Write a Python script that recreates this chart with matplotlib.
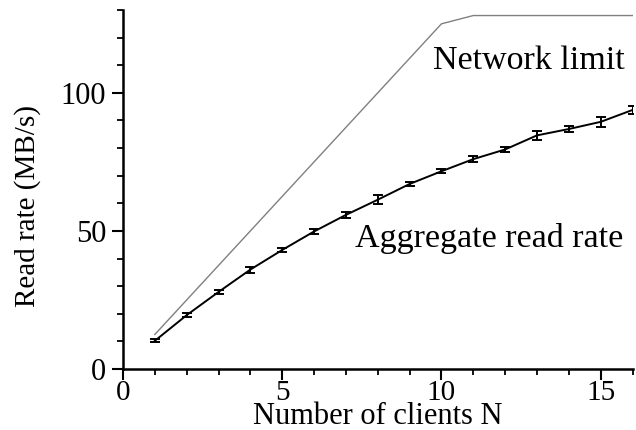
import matplotlib
matplotlib.use("Agg")
import matplotlib.pyplot as plt
from matplotlib.ticker import MultipleLocator

clients = [1, 2, 3, 4, 5, 6, 7, 8, 9, 10, 11, 12, 13, 14, 15, 16]
read_rate = [10.2, 19.5, 27.9, 36.0, 43.1, 49.8, 55.8, 61.3, 67.0, 71.6,
             76.0, 79.5, 84.6, 86.9, 89.5, 93.8]
read_err = [0.5, 0.6, 0.8, 1.1, 0.8, 0.8, 1.0, 1.6, 0.8, 0.8,
            1.0, 0.8, 1.5, 1.0, 1.8, 1.6]
net_clients = [1, 10, 11, 16]
net_limit = [12.5, 125.0, 128.0, 128.0]

plt.rcParams['font.family'] = ['Liberation Serif', 'DejaVu Serif']

fig = plt.figure(figsize=(6.36, 4.30), dpi=100)
ax = fig.add_axes([0.1934, 0.1419, 0.8011, 0.8348])

ax.plot(net_clients, net_limit, color='#808080', lw=1.0)
ax.errorbar(clients, read_rate, yerr=read_err, color='black', lw=1.4,
            elinewidth=1.4, capsize=3.8, capthick=1.4)

ax.text(9.72, 108.7, 'Network limit', fontsize=24.5, va='baseline', ha='left')
ax.text(7.3, 44.2, 'Aggregate read rate', fontsize=24.5, va='baseline', ha='left')

ax.set_xlim(0, 16)
ax.set_ylim(0, 130)
ax.xaxis.set_major_locator(MultipleLocator(5))
ax.xaxis.set_minor_locator(MultipleLocator(1))
ax.yaxis.set_major_locator(MultipleLocator(50))
ax.yaxis.set_minor_locator(MultipleLocator(10))

for s in ['top', 'right']:
    ax.spines[s].set_visible(False)
for s in ['left', 'bottom']:
    ax.spines[s].set_linewidth(1.8)

ax.tick_params(which='major', direction='out', length=8, width=1.5,
               labelsize=22)
ax.tick_params(axis='y', which='major', pad=4)
ax.tick_params(axis='x', which='major', pad=0, labelsize=21)
ax.tick_params(which='minor', direction='out', length=4, width=1.3)

ax.set_xlabel('Number of clients N', fontsize=22)
ax.xaxis.label.set_va('baseline')
ax.xaxis.set_label_coords(0.5, -0.152)
ax.set_ylabel('Read rate (MB/s)', fontsize=21)
ax.yaxis.set_label_coords(-0.16, 0.455)

fig.savefig('out.png', dpi=100)
